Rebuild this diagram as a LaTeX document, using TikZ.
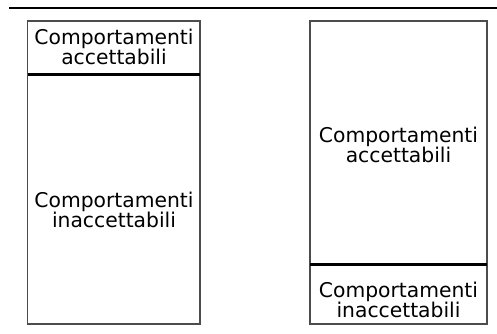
\documentclass[tikz,border=0pt]{standalone}
\usepackage{fontspec}
\setmainfont{DejaVu Sans}
\begin{document}
\begin{tikzpicture}[x=1pt,y=1pt,
  frame/.style={draw=black!70, line width=1.2pt},
  divider/.style={draw=black, line width=3pt},
  label/.style={align=center, inner sep=0pt, font=\fontsize{20.3}{20}\selectfont}]
\useasboundingbox (0,0) rectangle (497,334);
% rule across the top
\coordinate (r1) at (9,326);
\coordinate (r2) at (497,326);
\draw[line width=1.5pt] (r1) -- (r2);
% left column
\draw[frame] (27.5,10) rectangle (200,313);
\coordinate (la) at (27.5,259);
\coordinate (lb) at (200,259);
\draw[divider] (la) -- (lb);
\node[label] (lacc) at (114,287) {Comportamenti\\accettabili};
\node[label] (linacc) at (114,124) {Comportamenti\\inaccettabili};
% right column
\draw[frame] (310,10) rectangle (487,313);
\coordinate (ra) at (310,69);
\coordinate (rb) at (487,69);
\draw[divider] (ra) -- (rb);
\node[label] (racc) at (398.5,189) {Comportamenti\\accettabili};
\node[label] (rinacc) at (398.5,34) {Comportamenti\\inaccettabili};
\end{tikzpicture}
\end{document}
